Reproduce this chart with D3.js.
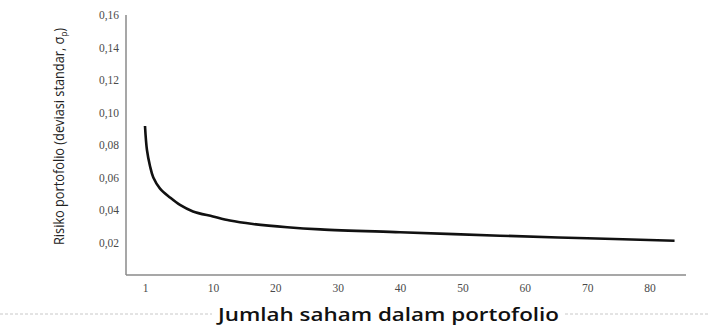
<!DOCTYPE html>
<html>
<head>
<meta charset="utf-8">
<script src="https://cdn.jsdelivr.net/npm/d3@7"></script>
<style>
  html, body { margin: 0; padding: 0; background: #fff; }
  svg { display: block; }
</style>
</head>
<body>
<svg id="chart" width="708" height="326"></svg>
<script>
// Data
const nStocks = [1, 1.26, 1.66, 2.10, 2.99, 4.31, 5.63, 7.35, 10, 12.7, 16.4, 21.9, 27.2, 40, 56, 70, 84];
const risk    = [0.0917, 0.0769, 0.0671, 0.0600, 0.0532, 0.0477, 0.0431, 0.0391, 0.0360, 0.0335, 0.0314, 0.0294, 0.0281, 0.0263, 0.0242, 0.0226, 0.0211];
const xTicks = [1, 10, 20, 30, 40, 50, 60, 70, 80];
const yTicks = [0.02, 0.04, 0.06, 0.08, 0.10, 0.12, 0.14, 0.16];
const xTitle = "Jumlah saham dalam portofolio";
const yTitle = "Risiko portofolio (deviasi standar, σ";
const yTitleSub = "p";

const svg = d3.select("#chart");
const data = nStocks.map((n, i) => ({ n, r: risk[i] }));

// axis frame
const x0 = 126, x1 = 686, yTop = 15, yBot = 275;
const x = d3.scaleLinear().domain([1, 10, 80]).range([145, 213, 649.6]);
const y = d3.scaleLinear().domain([0, 0.16]).range([yBot, yTop]);

// y axis line
svg.append("line").attr("x1", x0).attr("x2", x0).attr("y1", yTop).attr("y2", yBot)
  .attr("stroke", "#8a8a8a").attr("stroke-width", 1.5);
// x axis line
svg.append("line").attr("x1", x0).attr("x2", x1).attr("y1", yBot).attr("y2", yBot)
  .attr("stroke", "#8a8a8a").attr("stroke-width", 1.5);

const fmt = d => d.toFixed(2).replace(".", ",");
const serif = "'Liberation Serif', 'DejaVu Serif', serif";

// y tick labels
const yAxis = d3.axisLeft(y).tickValues(yTicks).tickFormat(fmt).tickSize(0).tickPadding(7);
const gy = svg.append("g").attr("transform", `translate(${x0},0)`).call(yAxis)
  .attr("font-family", serif);
gy.select(".domain").remove();
gy.selectAll("text").style("font-family", serif)
  .attr("font-size", 11.5).attr("fill", "#4a4a4a");

// x tick labels
const xAxis = d3.axisBottom(x).tickValues(xTicks).tickFormat(d3.format("d")).tickSize(0).tickPadding(9);
const gx = svg.append("g").attr("transform", `translate(0,${yBot})`).call(xAxis)
  .attr("font-family", serif);
gx.select(".domain").remove();
gx.selectAll("text").style("font-family", serif)
  .attr("font-size", 11.5).attr("fill", "#4a4a4a");

// curve
const line = d3.line().x(d => x(d.n)).y(d => y(d.r)).curve(d3.curveCatmullRom.alpha(0.5));
svg.append("path").datum(data).attr("d", line)
  .attr("fill", "none").attr("stroke", "#111").attr("stroke-width", 2.6)
  .attr("stroke-linecap", "butt");

// dotted separator line
svg.append("line").attr("x1", 0).attr("x2", 708).attr("y1", 314).attr("y2", 314)
  .attr("stroke", "#c8c8c8").attr("stroke-width", 1).attr("stroke-dasharray", "3,2");

// x title with white background
svg.append("rect").attr("x", 212).attr("y", 302).attr("width", 352).attr("height", 24).attr("fill", "#fff");
svg.append("text").attr("x", 218).attr("y", 321)
  .attr("font-family", "'Open Sans', 'DejaVu Sans', sans-serif")
  .attr("font-size", 18).attr("font-weight", 600).attr("fill", "#111")
  .attr("textLength", 341).attr("lengthAdjust", "spacingAndGlyphs")
  .text(xTitle);

// y title
const yt = svg.append("text")
  .attr("transform", "translate(64,245) rotate(-90)")
  .attr("font-family", "'Liberation Sans Narrow', 'Open Sans', sans-serif")
  .attr("font-size", 14.5).attr("fill", "#222")
  .attr("textLength", 217).attr("lengthAdjust", "spacingAndGlyphs");
yt.append("tspan").text(yTitle);
yt.append("tspan").attr("font-size", 9).attr("dy", 3).text(yTitleSub);
yt.append("tspan").attr("dy", -3).text(")");
</script>
</body>
</html>
